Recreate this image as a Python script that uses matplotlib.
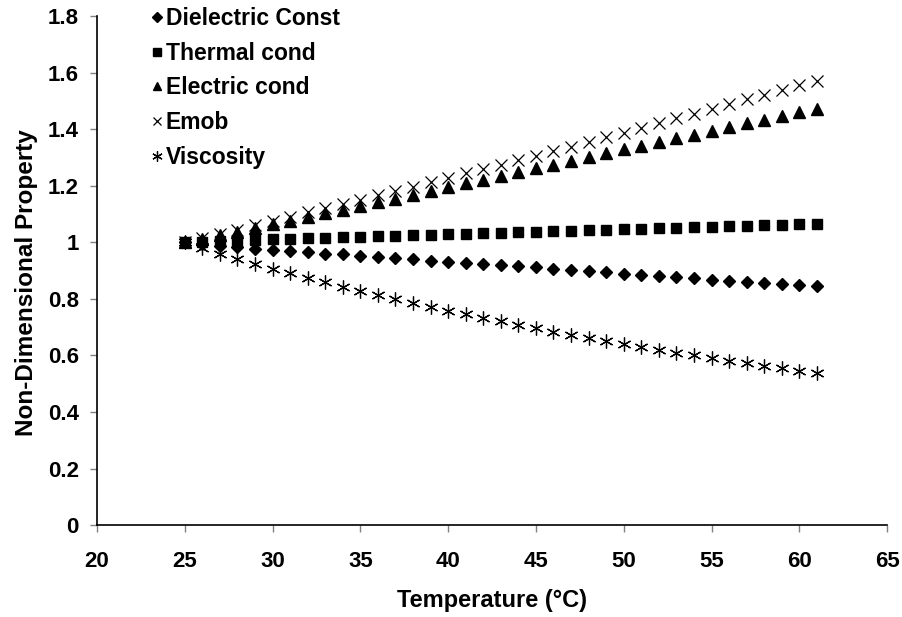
import numpy as np
import matplotlib
matplotlib.use('Agg')
import matplotlib.pyplot as plt

plt.rcParams['font.family'] = ['Liberation Sans', 'DejaVu Sans']
plt.rcParams['font.weight'] = 'bold'

temperature = list(range(25, 62))

dielectric = [1.000, 0.994, 0.988, 0.983, 0.977, 0.972, 0.969, 0.964, 0.960, 0.957,
              0.952, 0.948, 0.944, 0.940, 0.935, 0.931, 0.928, 0.924, 0.920, 0.916,
              0.911, 0.907, 0.902, 0.898, 0.894, 0.889, 0.885, 0.881, 0.877, 0.872,
              0.868, 0.864, 0.860, 0.857, 0.853, 0.850, 0.846]
thermal = [1.000, 1.002, 1.004, 1.006, 1.008, 1.010, 1.012, 1.014, 1.015, 1.017,
           1.019, 1.021, 1.023, 1.025, 1.027, 1.028, 1.030, 1.032, 1.034, 1.035,
           1.037, 1.039, 1.041, 1.043, 1.044, 1.046, 1.048, 1.050, 1.051, 1.053,
           1.055, 1.056, 1.058, 1.060, 1.061, 1.063, 1.065]
electric = [1.000, 1.013, 1.026, 1.038, 1.051, 1.064, 1.077, 1.090, 1.102, 1.115,
            1.128, 1.141, 1.154, 1.167, 1.181, 1.194, 1.208, 1.221, 1.235, 1.248,
            1.262, 1.275, 1.289, 1.302, 1.316, 1.329, 1.342, 1.355, 1.368, 1.381,
            1.394, 1.407, 1.421, 1.434, 1.447, 1.460, 1.473]
emob = [1.000, 1.015, 1.030, 1.045, 1.060, 1.076, 1.091, 1.106, 1.121, 1.136,
        1.151, 1.166, 1.181, 1.196, 1.212, 1.228, 1.244, 1.260, 1.275, 1.291,
        1.306, 1.322, 1.338, 1.355, 1.371, 1.388, 1.405, 1.422, 1.438, 1.455,
        1.471, 1.488, 1.505, 1.522, 1.538, 1.555, 1.572]
viscosity = [1.000, 0.979, 0.960, 0.941, 0.923, 0.907, 0.890, 0.873, 0.858, 0.843,
             0.828, 0.813, 0.799, 0.785, 0.771, 0.758, 0.745, 0.732, 0.720, 0.708,
             0.696, 0.684, 0.673, 0.662, 0.651, 0.640, 0.630, 0.620, 0.610, 0.600,
             0.590, 0.581, 0.572, 0.563, 0.554, 0.545, 0.536]

xticks = [20, 25, 30, 35, 40, 45, 50, 55, 60, 65]
yticks = [0, 0.2, 0.4, 0.6, 0.8, 1, 1.2, 1.4, 1.6, 1.8]
ytick_labels = ['0', '0.2', '0.4', '0.6', '0.8', '1', '1.2', '1.4', '1.6', '1.8']

fig = plt.figure(figsize=(9.02, 6.17), dpi=100)
ax = fig.add_axes([0.1075, 0.149, 0.876, 0.825])

ax.plot(temperature, dielectric, 'D', color='black', ms=6.5, label='Dielectric Const')
ax.plot(temperature, thermal, 's', color='black', ms=7.5, label='Thermal cond')
ax.plot(temperature, electric, '^', color='black', ms=8, label='Electric cond')
ax.plot(temperature, emob, 'x', color='black', ms=8, mew=0.9, label='Emob')
ax.plot(temperature, viscosity, marker=(6, 2, 0), ls='none', color='black', ms=10,
        mew=0.9, label='Viscosity')

ax.set_xlim(20, 65)
ax.set_ylim(0, 1.8)
ax.set_xticks(xticks)
ax.set_yticks(yticks)
ax.set_yticklabels(ytick_labels)
ax.tick_params(axis='both', direction='out', length=5, width=1, color='#808080',
               labelsize=16)
ax.tick_params(axis='x', pad=14)
ax.tick_params(axis='y', pad=8)
for lab in ax.get_xticklabels() + ax.get_yticklabels():
    lab.set_fontweight('bold')

ax.spines['top'].set_visible(False)
ax.spines['right'].set_visible(False)
ax.spines['left'].set_linewidth(1.2)
ax.spines['bottom'].set_linewidth(1.2)

ax.set_xlabel('Temperature (°C)', fontsize=17, fontweight='bold', labelpad=12)
ax.set_ylabel('Non-Dimensional Property', fontsize=17.5, fontweight='bold',
              labelpad=7, y=0.477)

leg = ax.legend(loc='upper left', bbox_to_anchor=(0.048, 1.05), frameon=False,
                prop={'size': 16.5, 'weight': 'bold'}, handlelength=0.5,
                handletextpad=0.15, labelspacing=0.52, markerscale=0.75,
                borderaxespad=0.3)

fig.savefig('out.png', dpi=100)
